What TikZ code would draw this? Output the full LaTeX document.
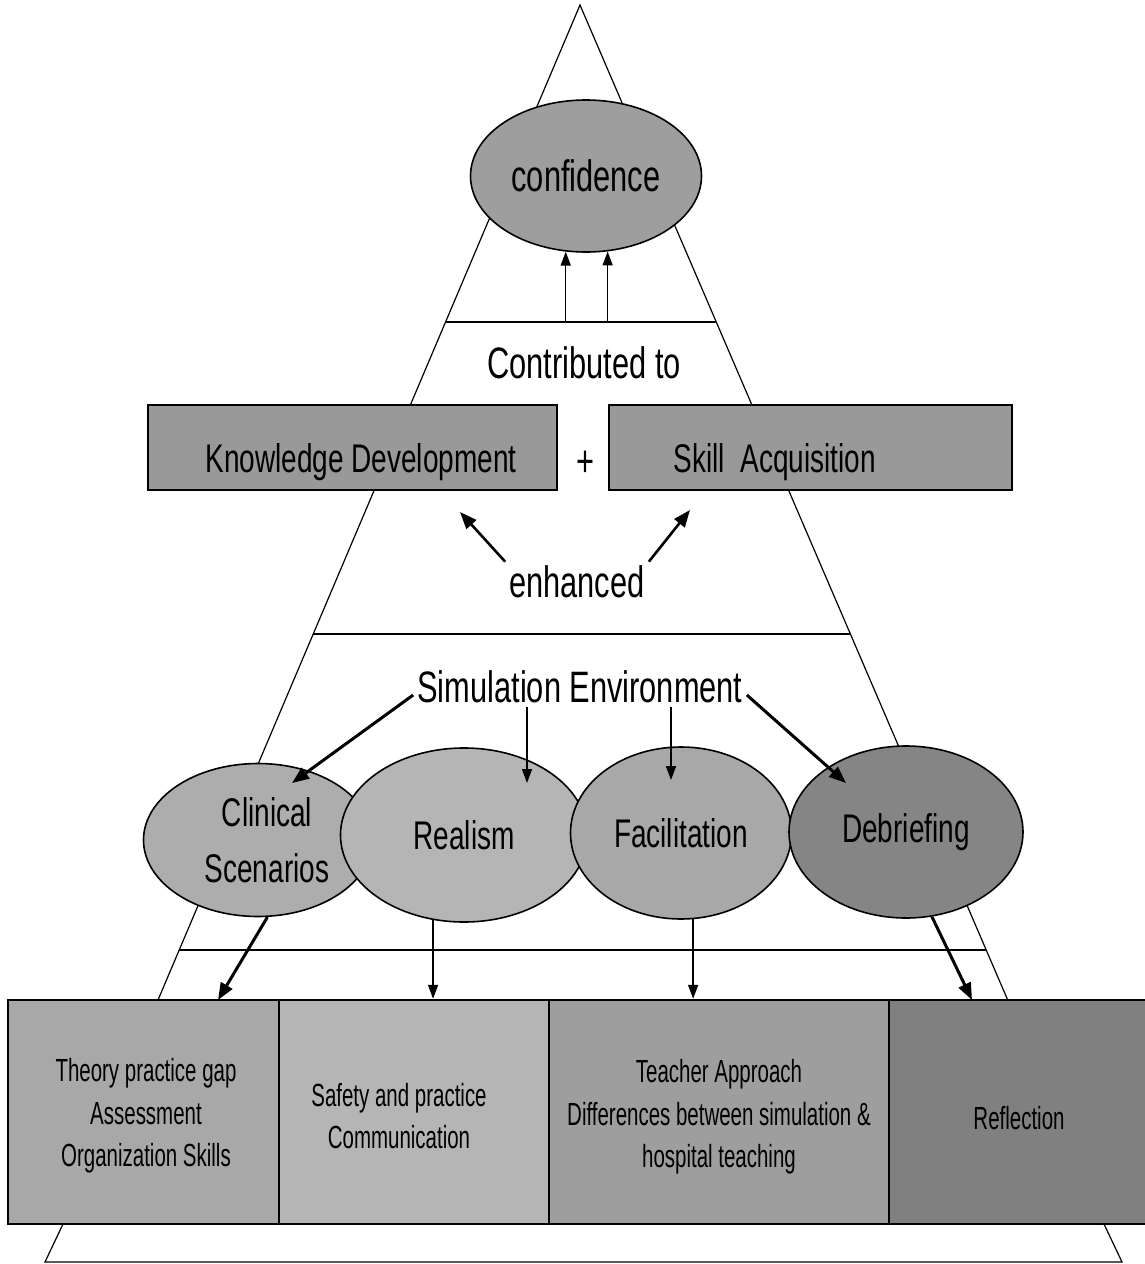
\documentclass[tikz,border=0pt]{standalone}
\usepackage{fontspec}
\setmainfont{Liberation Sans}[FakeStretch=0.7]
\newfontfamily\narrowfont{Liberation Sans}[FakeStretch=0.64]
\usetikzlibrary{shapes.geometric,arrows.meta,calc}
\definecolor{cconf}{gray}{0.62}
\definecolor{cbox}{gray}{0.6}
\definecolor{cclin}{gray}{0.68}
\definecolor{creal}{gray}{0.71}
\definecolor{cfac}{gray}{0.66}
\definecolor{cdeb}{gray}{0.52}
\definecolor{ccellone}{gray}{0.66}
\definecolor{ccelltwo}{gray}{0.71}
\definecolor{ccellthree}{gray}{0.62}
\definecolor{ccellfour}{gray}{0.5}
\begin{document}
\begin{tikzpicture}[x=1pt,y=-1pt,
  thinline/.style={line width=1.2pt},
  oval/.style={ellipse, draw, line width=1.6pt, inner sep=0pt, align=center,
               font=\fontsize{40}{56}\selectfont},
  bigtext/.style={inner sep=4pt, font=\fontsize{44}{50}\selectfont},
  midtext/.style={inner sep=2pt, font=\fontsize{40}{50}\selectfont},
  celltext/.style={inner sep=2pt, align=center, font=\narrowfont\fontsize{32}{42.5}\selectfont},
  topbox/.style={rectangle, draw, line width=2.4pt, fill=cbox, inner sep=0pt, minimum height=85pt},
  cellbox/.style={rectangle, draw, line width=2.4pt, inner sep=0pt, minimum height=224pt},
  thinarrow/.style={-{Triangle[length=14pt,width=10pt]}, line width=1.5pt},
  thickarrow/.style={-{Triangle[length=17pt,width=13pt]}, line width=3pt},
]
\useasboundingbox (0,0) rectangle (1144,1264);
\fill[white] (0,0) rectangle (1144,1264);

% pyramid outline
\draw[thinline, fill=white, line join=miter]
  (580,5) -- (63,1224) -- (45,1262) -- (1122,1262) -- (1104,1224) -- cycle;
\draw[thinline] (446,322) -- (716,322);
\draw[thinline] (313,634) -- (851,634);
\draw[thinline] (179,950) -- (986,950);
\coordinate (lineone) at (0,322);

% top level
\node[ellipse, draw, line width=1.6pt, fill=cconf, inner sep=0pt,
      minimum width=231pt, minimum height=152pt,
      font=\fontsize{44}{50}\selectfont] (conf) at (586,176) {confidence};
\draw[thinarrow] (conf.-105 |- lineone) -- (conf.-105);
\draw[thinarrow] (conf.-74 |- lineone) -- (conf.-74);

\node[bigtext] (contrib) at (584,363) {Contributed to};

\node[topbox, minimum width=409pt] (kd) at (352.5,447.5) {};
\node[topbox, minimum width=403pt] (sa) at (810.5,447.5) {};
\node[midtext] (kdtext) at (361,462) {Knowledge Development};
\node[midtext] (satext) at (775,462) {Skill\ \ Acquisition};
\node[bigtext] (plus) at (585,464) {+};

\node[bigtext] (enh) at (577,582) {enhanced};
\coordinate (kdtip) at (460,512);
\coordinate (satip) at (690,510);
\draw[thickarrow, line width=2.6pt] (enh.north west) -- (kdtip);
\draw[thickarrow, line width=2.6pt] (enh.north east) -- (satip);

% simulation environment
\node[bigtext] (sim) at (580,687) {Simulation Environment};

\node[oval, fill=cclin, minimum width=229pt, minimum height=153pt] (clin) at (258,840) {\hspace*{18pt}Clinical\\\hspace*{18pt}Scenarios};
\node[oval, fill=creal, minimum width=247pt, minimum height=174pt] (real) at (464,835) {Realism};
\node[oval, fill=cfac, minimum width=221pt, minimum height=172pt] (fac) at (681,833) {Facilitation};
\node[oval, fill=cdeb, minimum width=234pt, minimum height=172pt] (deb) at (906,832) {Debriefing};

\coordinate (cliptip) at (292,783);
\coordinate (realtip) at (527,783);
\coordinate (factip) at (671,780);
\coordinate (debtip) at (846,783);
\draw[thickarrow] ($(sim.west)+(0,8)$) -- (cliptip);
\draw[thinarrow] (realtip |- sim.south) -- (realtip);
\draw[thinarrow] (factip |- sim.south) -- (factip);
\draw[thickarrow] ($(sim.east)+(0,8)$) -- (debtip);

% bottom cells
\node[cellbox, fill=ccellone, minimum width=271pt] (cellone) at (143.5,1112) {};
\node[cellbox, fill=ccelltwo, minimum width=270pt] (celltwo) at (414,1112) {};
\node[cellbox, fill=ccellthree, minimum width=340pt] (cellthree) at (719,1112) {};
\node[cellbox, fill=ccellfour, minimum width=262pt] (cellfour) at (1020,1112) {};

\node[celltext] (tone) at (146,1116) {Theory practice gap\\Assessment\\Organization Skills};
\node[celltext] (ttwo) at (399,1116) {Safety and practice\\Communication};
\node[celltext] (tthree) at (719,1117) {Teacher Approach\\Differences between simulation \&\\hospital teaching};
\node[celltext] (tfour) at (1019,1118) {Reflection};

\coordinate (onetip) at (218,1000);
\coordinate (fourtip) at (972,1000);
\draw[thickarrow] (clin.-83) -- (onetip);
\draw[thinarrow] (real.250) -- (real.250 |- celltwo.north);
\draw[thinarrow] (fac.-82) -- (fac.-82 |- cellthree.north);
\draw[thickarrow] (deb.-73) -- (fourtip);
\end{tikzpicture}
\end{document}
